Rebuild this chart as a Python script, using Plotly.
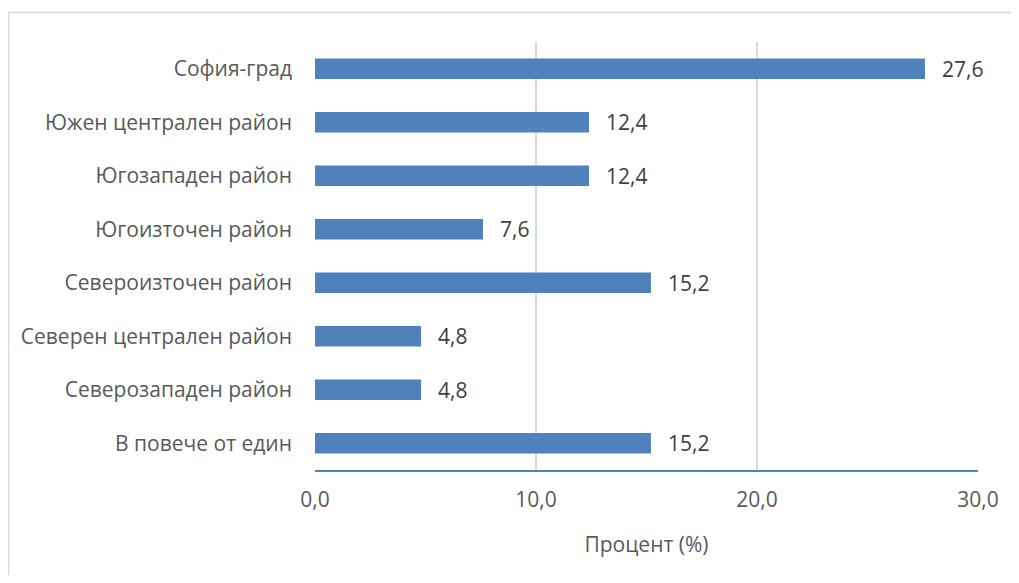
import plotly.graph_objects as go

categories = ["София-град", "Южен централен район", "Югозападен район", "Югоизточен район",
              "Североизточен район", "Северен централен район", "Северозападен район", "В повече от един"]
values = [27.6, 12.4, 12.4, 7.6, 15.2, 4.8, 4.8, 15.2]
tick_vals = [0, 10, 20, 30]
x_title = "Процент (%)"

# page has an 8px body margin; figure coordinates = page coordinates - 8
W, H = 1011, 567
L, R, T, B = 307, 970, 34, 462

FONT = "Open Sans"
FS = 21
BAR = "#4F81BD"

fig = go.Figure(go.Bar(
    y=categories, x=values, orientation="h",
    marker=dict(color=BAR, line=dict(width=0)),
    width=0.38,
))

annotations = [
    dict(x=v, y=c, xref="x", yref="y", text=f"{v:.1f}".replace(".", ","),
         showarrow=False, xanchor="left", xshift=15,
         font=dict(family=FONT, size=FS, color="#404040"))
    for c, v in zip(categories, values)
]

def px_x(p):
    return (p - L) / (R - L)

def px_y(p):
    return (B - p) / (B - T)

fig.update_layout(
    width=W, height=H,
    margin=dict(l=L, r=W - R, t=T, b=H - B),
    paper_bgcolor="white", plot_bgcolor="white",
    separators=", ",
    showlegend=False,
    font=dict(family=FONT, size=FS, color="#595959"),
    annotations=annotations,
    shapes=[dict(type="rect", xref="paper", yref="paper",
                 x0=px_x(0.5), x1=px_x(1030), y0=px_y(4.5), y1=px_y(600),
                 line=dict(color="#D9D9D9", width=1.5), fillcolor="rgba(0,0,0,0)", layer="below")],
    xaxis=dict(range=[0, 30], tickvals=tick_vals, tickformat=".1f",
               showgrid=True, gridcolor="#D9D9D9", gridwidth=1.5,
               zeroline=False, showline=True, linecolor=BAR, linewidth=1.5,
               ticks="", ticklabelstandoff=10,
               title=dict(text=x_title, font=dict(family=FONT, size=FS, color="#595959"), standoff=25),
               tickfont=dict(family=FONT, size=FS, color="#595959")),
    yaxis=dict(autorange="reversed", showgrid=False, zeroline=False, showline=False,
               ticks="", ticklabelstandoff=22,
               tickfont=dict(family=FONT, size=FS, color="#595959")),
)

fig.write_html("out.html")
